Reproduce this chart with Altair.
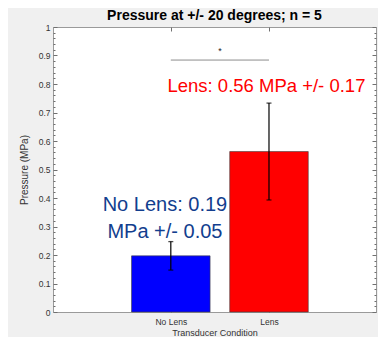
import altair as alt
import pandas as pd

# ---- data ----
conditions = ["No Lens", "Lens"]
positions = [1, 2]
means = [0.197, 0.563]
errors = [0.05, 0.17]

sig_start = [1]
sig_end = [2]
sig_y = [0.884]
star_x = [1.5]
star_y = [0.905]
star_text = ["*"]

lens_label = ["Lens: 0.56 MPa +/- 0.17"]
lens_label_x = [1.974]
lens_label_y = [0.793]

nolens_lines = ["No Lens: 0.19", "MPa +/- 0.05"]
nolens_x = [0.94, 0.94]
nolens_y = [0.376, 0.282]

y_major = [0, 0.1, 0.2, 0.3, 0.4, 0.5, 0.6, 0.7, 0.8, 0.9, 1]
y_minor = [round(i * 0.02, 2) for i in range(51) if i % 5 != 0]

title_text = "Pressure at +/- 20 degrees; n = 5"
x_title = "Transducer Condition"
y_title = "Pressure (MPa)"

# ---- styles ----
FONT = "Liberation Sans"
bar_colors = ["#0000ff", "#ff0000"]
tick_color = "#707070"
label_color = "#333333"
BAR_HALF = 0.4

df = pd.DataFrame({"cond": conditions, "pos": positions, "mean": means, "err": errors})
sig_df = pd.DataFrame({"x1": sig_start, "x2": sig_end, "y": sig_y})
star_df = pd.DataFrame({"x": star_x, "y": star_y, "t": star_text})
lens_df = pd.DataFrame({"x": lens_label_x, "y": lens_label_y, "t": lens_label})
nolens_df = pd.DataFrame({"x": nolens_x, "y": nolens_y, "t": nolens_lines})

PLOT_W, PLOT_H = 323, 285
x_scale = alt.Scale(domain=[-0.2, 3.09], nice=False, zero=False, padding=0)
y_scale = alt.Scale(domain=[0, 1], nice=False, zero=False, padding=0)

label_expr = " : ".join(
    [f"datum.value == {p} ? '{c}'" for p, c in zip(positions, conditions)]
) + " : ''"

common_tick = dict(domain=False, grid=False, tickColor=tick_color, tickWidth=1)

bars = (
    alt.Chart(df)
    .transform_calculate(
        x0=f"datum.pos - {BAR_HALF}", x1=f"datum.pos + {BAR_HALF}", base="0"
    )
    .mark_bar(stroke="#404040", strokeWidth=0.6, orient="vertical")
    .encode(
        x=alt.X(
            "x0:Q",
            scale=x_scale,
            axis=alt.Axis(
                orient="bottom", values=positions, labelExpr=label_expr,
                title=x_title, offset=-4, tickSize=4, labelPadding=5,
                titlePadding=3, labelFontSize=8.5, titleFontSize=9,
                labelColor=label_color, titleColor=label_color,
                titleFontWeight="normal", labelFont=FONT, titleFont=FONT,
                **common_tick,
            ),
        ),
        x2="x1:Q",
        y=alt.Y(
            "mean:Q",
            scale=y_scale,
            axis=alt.Axis(
                orient="left", values=y_major, format="~g", title=y_title,
                offset=-4, tickSize=4, labelPadding=3, titlePadding=9,
                labelFontSize=8.5, titleFontSize=10, labelColor=label_color,
                titleColor=label_color, titleFontWeight="normal",
                labelFont=FONT, titleFont=FONT, **common_tick,
            ),
        ),
        y2="base:Q",
        color=alt.Color("cond:N", scale=alt.Scale(domain=conditions, range=bar_colors), legend=None),
    )
)

err_rule = (
    alt.Chart(df)
    .transform_calculate(lo="datum.mean - datum.err", hi="datum.mean + datum.err")
    .mark_rule(color="black", strokeWidth=1.2)
    .encode(
        x=alt.X("pos:Q", scale=x_scale,
                axis=alt.Axis(orient="top", values=positions, labels=False, title=None,
                              offset=-4, tickSize=4, **common_tick)),
        y=alt.Y("lo:Q", scale=y_scale,
                axis=alt.Axis(orient="right", values=y_major, labels=False, title=None,
                              offset=-4, tickSize=4, **common_tick)),
        y2="hi:Q",
    )
)

err_caps = (
    alt.Chart(df)
    .transform_calculate(lo="datum.mean - datum.err", hi="datum.mean + datum.err")
    .transform_fold(["lo", "hi"], as_=["end", "v"])
    .mark_tick(orient="horizontal", size=5, thickness=1.3, color="black")
    .encode(
        x=alt.X("pos:Q", scale=x_scale, axis=None),
        y=alt.Y("v:Q", scale=y_scale,
                axis=alt.Axis(orient="left", values=y_minor, labels=False, title=None,
                              offset=-2, tickSize=2, **common_tick)),
    )
)

sig_line = (
    alt.Chart(sig_df)
    .mark_rule(color="#8c8c8c", strokeWidth=1)
    .encode(
        x=alt.X("x1:Q", scale=x_scale, axis=None),
        x2="x2:Q",
        y=alt.Y("y:Q", scale=y_scale,
                axis=alt.Axis(orient="right", values=y_minor, labels=False, title=None,
                              offset=-2, tickSize=2, **common_tick)),
    )
)

star = (
    alt.Chart(star_df)
    .mark_text(font=FONT, fontSize=9, color="#222222", baseline="alphabetic", align="center")
    .encode(
        x=alt.X("x:Q", scale=x_scale, axis=None),
        y=alt.Y("y:Q", scale=y_scale, axis=None),
        text="t:N",
    )
)

lens_text = (
    alt.Chart(lens_df)
    .mark_text(font=FONT, fontSize=18.5, color="#ff0000", baseline="middle", align="center")
    .encode(
        x=alt.X("x:Q", scale=x_scale, axis=None),
        y=alt.Y("y:Q", scale=y_scale, axis=None),
        text="t:N",
    )
)

nolens_text = (
    alt.Chart(nolens_df)
    .mark_text(font=FONT, fontSize=20, color="#123e8e", baseline="middle", align="center")
    .encode(
        x=alt.X("x:Q", scale=x_scale, axis=None),
        y=alt.Y("y:Q", scale=y_scale, axis=None),
        text="t:N",
    )
)

chart = (
    alt.layer(bars, err_rule, err_caps, sig_line, star, lens_text, nolens_text)
    .resolve_axis(x="independent", y="independent")
    .properties(
        width=PLOT_W,
        height=PLOT_H,
        padding={"left": 45, "top": 19, "right": 2, "bottom": 25},
        autosize=alt.AutoSizeParams(type="none"),
        background="#f0f0f0",
        title=alt.TitleParams(
            title_text, fontSize=14, fontWeight="bold", font=FONT, color="black",
            anchor="middle", frame="group", offset=-11, baseline="alphabetic",
        ),
    )
    .configure(font=FONT)
    .configure_view(stroke="#9a9a9a", strokeWidth=1, fill="white")
)

chart.save("out.html", embed_options={"renderer": "svg", "actions": False})
